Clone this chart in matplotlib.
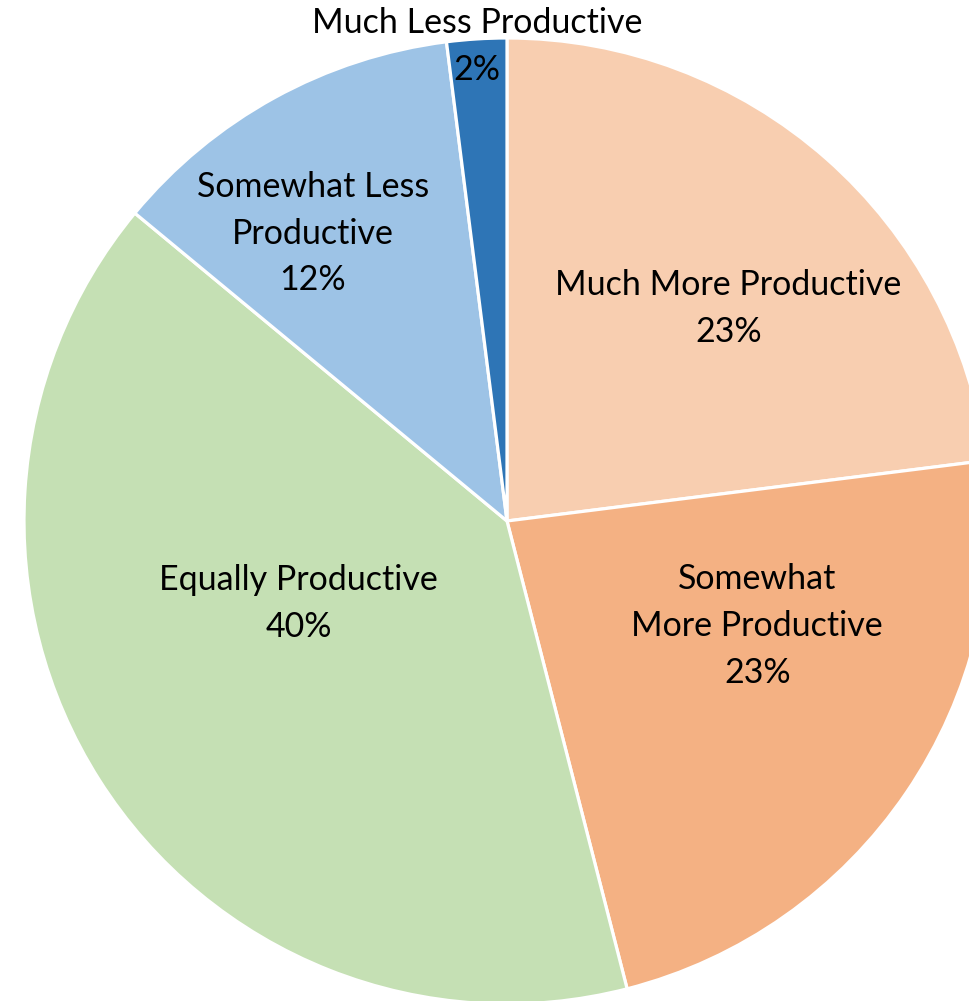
import matplotlib
matplotlib.use("Agg")
import matplotlib.pyplot as plt

# survey answers, clockwise from 12 o'clock
categories = ["Much More Productive", "Somewhat\nMore Productive", "Equally Productive",
              "Somewhat Less\nProductive", "Much Less Productive"]
shares = [23, 23, 40, 12, 2]
colors = ["#F8CEB0", "#F4B183", "#C5E0B4", "#9DC3E6", "#2E75B6"]

# where each label sits, in units of the pie radius
label_pos = [(0.458, 0.44), (0.518, -0.218), (-0.431, -0.17), (-0.402, 0.595), (-0.062, 0.983)]

plt.rcParams['font.family'] = ['Lato', 'DejaVu Sans']

W, H = 969, 1001
cx, cy, R = 507, 521, 483

fig = plt.figure(figsize=(W / 100, H / 100), dpi=100)
ax = fig.add_axes([0, 0, 1, 1])

ax.pie(shares, colors=colors, startangle=90, counterclock=False, radius=1,
       wedgeprops=dict(edgecolor="white", linewidth=2.3))

for cat, val, (x, y) in zip(categories, shares, label_pos):
    ax.text(x, y, f"{cat}\n{val}%", ha="center", va="center", fontsize=24.5,
            linespacing=1.57, color="black")

ax.set_xlim(-cx / R, (W - cx) / R)
ax.set_ylim(-(H - cy) / R, cy / R)
ax.set_aspect("equal", adjustable="box")
ax.axis("off")

fig.savefig("out.png", dpi=100, facecolor="white")
